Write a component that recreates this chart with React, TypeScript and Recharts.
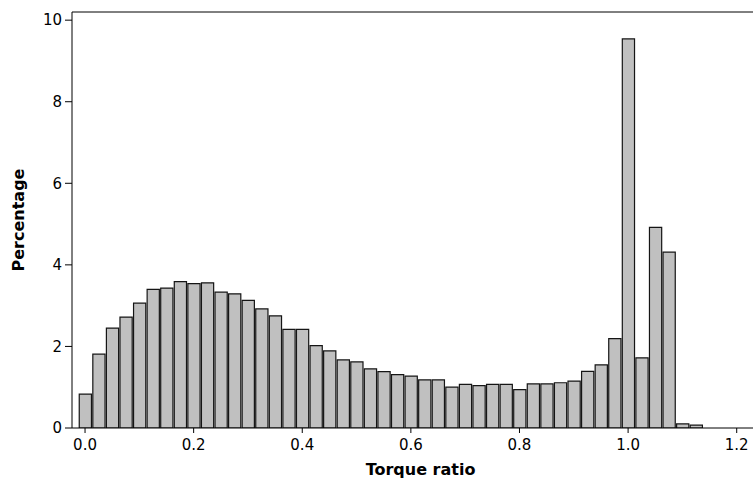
import { Bar, BarChart, ReferenceLine, XAxis, YAxis } from "recharts"

// bin centres (torque ratio), bin width 0.025
const binCentres = [
  0, 0.025, 0.05, 0.075, 0.1, 0.125, 0.15, 0.175, 0.2, 0.225,
  0.25, 0.275, 0.3, 0.325, 0.35, 0.375, 0.4, 0.425, 0.45, 0.475,
  0.5, 0.525, 0.55, 0.575, 0.6, 0.625, 0.65, 0.675, 0.7, 0.725,
  0.75, 0.775, 0.8, 0.825, 0.85, 0.875, 0.9, 0.925, 0.95, 0.975,
  1.0, 1.025, 1.05, 1.075, 1.1, 1.125,
]

// percentage in each bin
const percentages = [
  0.83, 1.81, 2.45, 2.72, 3.06, 3.4, 3.43, 3.59, 3.54, 3.56,
  3.33, 3.29, 3.13, 2.92, 2.75, 2.42, 2.42, 2.02, 1.89, 1.67,
  1.62, 1.45, 1.38, 1.31, 1.27, 1.18, 1.18, 1.0, 1.07, 1.04,
  1.07, 1.07, 0.94, 1.08, 1.08, 1.11, 1.15, 1.39, 1.55, 2.19,
  9.54, 1.72, 4.92, 4.31, 0.1, 0.07,
]

const xTicks = [0, 0.2, 0.4, 0.6, 0.8, 1.0, 1.2]
const yTicks = [0, 2, 4, 6, 8, 10]

const data = binCentres.map((x, i) => ({ x, pct: percentages[i] }))

const FONT = "'DejaVu Sans', Verdana, sans-serif"
const X_MIN = -0.024
const X_MAX = 1.23
const Y_MAX = 10.2

export default function App() {
  return (
    <div style={{ position: "absolute", left: 0, top: 0, fontFamily: FONT }}>
      <BarChart
        width={753}
        height={480}
        data={data}
        margin={{ top: 12, right: 0, bottom: 0, left: 0 }}
        barCategoryGap={0}
      >
        <XAxis
          dataKey="x"
          type="number"
          domain={[X_MIN, X_MAX]}
          allowDataOverflow
          ticks={xTicks}
          tickFormatter={(v: number) => v.toFixed(1)}
          height={52}
          stroke="#000"
          tickSize={5}
          tickMargin={6}
          tick={{ fill: "#000", fontSize: 15, fontFamily: FONT }}
          label={{ value: "Torque ratio", position: "insideBottom", offset: 5, fill: "#000", fontSize: 16, fontWeight: "bold", fontFamily: FONT, dx: 8 }}
        />
        <YAxis
          type="number"
          domain={[0, Y_MAX]}
          allowDataOverflow
          ticks={yTicks}
          width={72}
          stroke="#000"
          tickSize={7}
          tickMargin={3}
          tick={{ fill: "#000", fontSize: 15, fontFamily: FONT }}
          label={{ value: "Percentage", angle: -90, position: "insideLeft", offset: 18, dy: 0, fill: "#000", fontSize: 16, fontWeight: "bold", fontFamily: FONT, style: { textAnchor: "middle" } }}
        />
        <ReferenceLine y={Y_MAX} stroke="#000" ifOverflow="extendDomain" />
        <Bar dataKey="pct" fill="#c0c0c0" stroke="#151515" strokeWidth={1.2} barSize={13.6} isAnimationActive={false} />
      </BarChart>
    </div>
  )
}
